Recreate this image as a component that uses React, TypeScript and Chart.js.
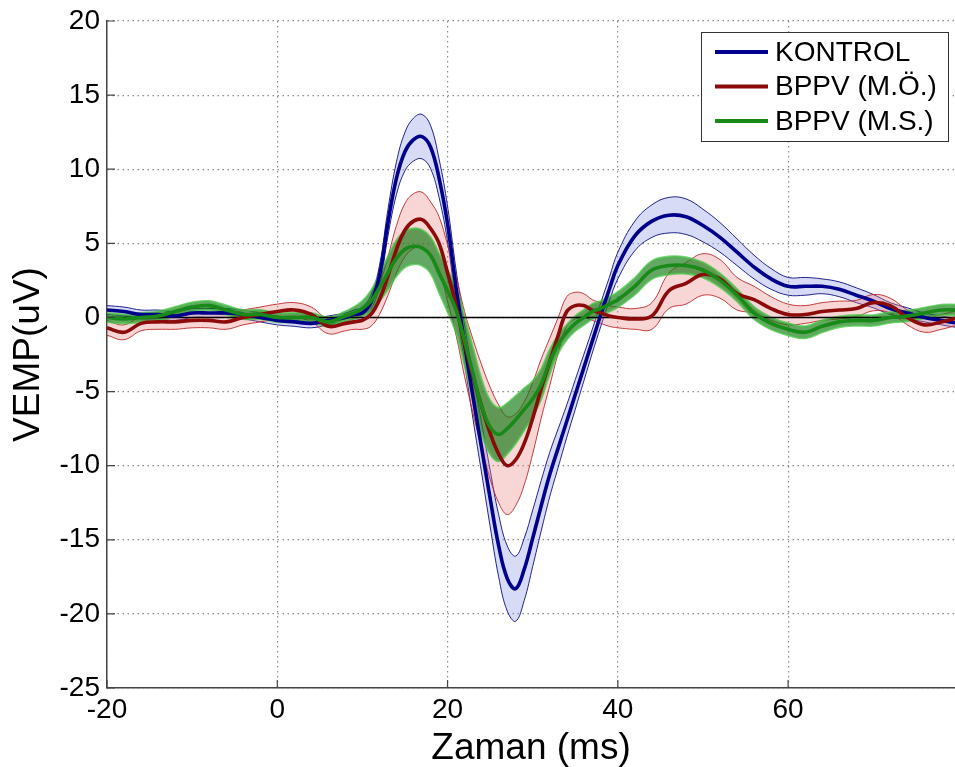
import React, { useEffect, useRef } from 'react';
import { Chart, registerables } from 'chart.js';

Chart.register(...registerables);

// ---- Data -------------------------------------------------------------
const time = [
  -20, -18, -16, -14, -12, -10, -8, -6, -4, -2, 0, 2, 4, 6, 8,
  9, 10, 11, 12, 13, 14, 15, 16, 17, 18, 19, 20, 21, 22, 23, 24, 25, 26, 27, 28, 29, 30, 31, 32, 33, 34, 35, 36, 37, 38, 39, 40,
  42, 44, 46, 48, 50, 52, 54, 56, 58, 60, 62, 64, 66, 68, 70, 72, 74, 76, 78, 80,
];

const kontrolMean = [
  0.5, 0.4, 0.2, 0.2, 0.1, 0.3, 0.3, 0.3, 0.2, 0.0, -0.2, -0.3, -0.4, -0.2, 0.0,
  0.2, 0.3, 1.0, 2.8, 6.4, 9.4, 11.2, 12.0, 12.2, 11.5, 9.4, 6.3, 2.0, -1.8, -5.4, -8.8, -12.2, -15.4, -17.6, -18.3,
  -17.0, -14.9, -12.7, -10.6, -8.8, -7.0, -5.2, -3.4, -1.6, 0.2, 1.9, 3.5,
  5.5, 6.5, 6.9, 6.8, 6.2, 5.4, 4.4, 3.4, 2.6, 2.1, 2.1, 2.1, 1.9, 1.5, 1.1, 0.6, 0.3, 0.0, -0.2, -0.4,
];
const kontrolErr = [
  0.3, 0.3, 0.3, 0.3, 0.3, 0.3, 0.3, 0.3, 0.3, 0.3, 0.3, 0.3, 0.3, 0.3, 0.3,
  0.3, 0.4, 0.5, 0.7, 0.9, 1.1, 1.3, 1.45, 1.5, 1.45, 1.3, 1.2, 1.2, 1.3, 1.5, 1.7, 1.9, 2.1, 2.2, 2.2,
  2.1, 1.9, 1.7, 1.5, 1.3, 1.1, 1.0, 0.9, 0.8, 0.8, 0.8, 0.9,
  1.0, 1.1, 1.2, 1.2, 1.1, 1.0, 0.9, 0.8, 0.7, 0.6, 0.6, 0.5, 0.5, 0.5, 0.45, 0.4, 0.35, 0.3, 0.3, 0.3,
];

const moMean = [
  -0.7, -1.0, -0.4, -0.3, -0.3, -0.2, -0.2, -0.3, 0.0, 0.2, 0.4, 0.5, 0.2, -0.6, -0.4,
  -0.3, -0.2, 0.2, 1.2, 2.8, 4.6, 5.9, 6.5, 6.6, 6.0, 5.0, 3.0, 0.8, -1.8, -4.0, -6.0, -7.8, -9.2, -10.0, -9.6,
  -8.5, -6.8, -4.8, -3.0, -1.2, 0.4, 0.8, 0.8, 0.5, 0.3, 0.1, 0.0,
  -0.1, 0.1, 1.8, 2.3, 2.9, 2.6, 1.6, 1.2, 0.6, 0.2, 0.2, 0.4, 0.5, 0.6, 1.0, 0.8, 0.0, -0.5, -0.3, 0.0,
];
const moErr = [
  0.5, 0.5, 0.5, 0.5, 0.5, 0.5, 0.5, 0.5, 0.5, 0.5, 0.5, 0.5, 0.5, 0.5, 0.5,
  0.5, 0.6, 0.8, 1.0, 1.3, 1.6, 1.8, 1.85, 1.85, 1.8, 1.8, 1.9, 2.0, 2.2, 2.5, 2.8, 3.1, 3.3, 3.3, 3.1,
  2.8, 2.4, 2.0, 1.6, 1.2, 1.0, 0.9, 0.8, 0.7, 0.7, 0.7, 0.7,
  0.7, 0.9, 1.2, 1.4, 1.4, 1.3, 1.1, 0.9, 0.8, 0.7, 0.6, 0.6, 0.6, 0.55, 0.55, 0.5, 0.5, 0.5, 0.5, 0.5,
];

const msMean = [
  0.0, -0.1, 0.0, 0.1, 0.4, 0.7, 0.8, 0.5, 0.2, 0.2, 0.0, 0.0, 0.0, -0.3, 0.1,
  0.3, 0.6, 1.1, 2.0, 3.0, 4.0, 4.6, 4.8, 4.7, 4.2, 3.0, 1.8, 0.5, -1.6, -3.8, -6.0, -7.4, -7.9, -7.5, -6.9,
  -6.2, -5.5, -4.5, -3.0, -1.8, -1.0, -0.4, 0.0, 0.4, 0.6, 0.9, 1.2,
  2.1, 3.2, 3.5, 3.5, 3.2, 2.5, 1.5, 0.3, -0.4, -0.8, -1.0, -0.6, -0.3, -0.2, -0.2, 0.0, 0.1, 0.3, 0.5, 0.5,
];
const msErr = [
  0.3, 0.3, 0.3, 0.3, 0.3, 0.3, 0.3, 0.3, 0.3, 0.3, 0.3, 0.3, 0.3, 0.3, 0.3,
  0.4, 0.5, 0.7, 0.9, 1.1, 1.2, 1.2, 1.2, 1.2, 1.2, 1.3, 1.4, 1.5, 1.6, 1.7, 1.8, 1.8, 1.8, 1.7, 1.6,
  1.4, 1.2, 1.0, 0.8, 0.6, 0.5, 0.5, 0.5, 0.5, 0.5, 0.5, 0.5,
  0.55, 0.6, 0.6, 0.55, 0.5, 0.45, 0.4, 0.4, 0.4, 0.4, 0.4, 0.4, 0.35, 0.35, 0.35, 0.35, 0.35, 0.35, 0.35, 0.35,
];

const seriesNames = ['KONTROL', 'BPPV (M.Ö.)', 'BPPV (M.S.)'];
const xTicks = [-20, 0, 20, 40, 60];
const xMin = -20;
const xMax = 79.6;
const yMin = -25;
const yMax = 20;
const yStep = 5;
const xTitle = 'Zaman (ms)';
const yTitle = 'VEMP(uV)';

// ---- Styling ----------------------------------------------------------
const FONT = "'Liberation Sans', Arial, Helvetica, sans-serif";

const styles = [
  { line: '#00008c', fill: 'rgba(150,160,230,0.38)', edge: 'rgba(0,0,120,0.85)', edgeW: 1 },
  { line: '#8c0a0a', fill: 'rgba(235,130,130,0.33)', edge: 'rgba(190,40,40,0.9)', edgeW: 1 },
  { line: '#178a17', fill: 'rgba(20,120,20,0.66)', edge: 'rgba(70,195,70,0.75)', edgeW: 2.2 },
];

const pts = (vals: number[]) => time.map((t, i) => ({ x: t, y: vals[i] }));

const legendPlugin = {
  id: 'boxLegend',
  afterDraw(chart: any) {
    const { ctx, chartArea } = chart;
    const w = 247;
    const h = 109;
    const x0 = chartArea.right - 254;
    const y0 = chartArea.top + 11;
    ctx.save();
    ctx.fillStyle = '#ffffff';
    ctx.fillRect(x0, y0, w, h);
    ctx.strokeStyle = '#333333';
    ctx.lineWidth = 1;
    ctx.strokeRect(x0 + 0.5, y0 + 0.5, w, h);
    const rows = [20, 54.5, 89];
    seriesNames.forEach((name, i) => {
      const y = y0 + rows[i];
      ctx.strokeStyle = styles[i].line;
      ctx.lineWidth = 4;
      ctx.beginPath();
      ctx.moveTo(x0 + 14, y);
      ctx.lineTo(x0 + 67, y);
      ctx.stroke();
      ctx.fillStyle = '#000';
      ctx.font = `28px ${FONT}`;
      ctx.textBaseline = 'middle';
      ctx.textAlign = 'left';
      ctx.fillText(name, x0 + 74, y + 1);
    });
    ctx.restore();
  },
};

// small inward tick marks (MATLAB style)
const innerTicksPlugin = {
  id: 'innerTicks',
  afterDatasetsDraw(chart: any) {
    const { ctx, chartArea, scales } = chart;
    ctx.save();
    ctx.strokeStyle = '#444';
    ctx.lineWidth = 1.2;
    ctx.beginPath();
    xTicks.forEach((v) => {
      const px = scales.x.getPixelForValue(v);
      ctx.moveTo(px, chartArea.bottom);
      ctx.lineTo(px, chartArea.bottom - 8);
    });
    for (let v = yMin; v <= yMax; v += yStep) {
      const py = scales.y.getPixelForValue(v);
      ctx.moveTo(chartArea.left, py);
      ctx.lineTo(chartArea.left + 8, py);
    }
    ctx.stroke();
    ctx.restore();
  },
};

export default function App() {
  const ref = useRef<HTMLCanvasElement>(null);

  useEffect(() => {
    const canvas = ref.current;
    if (!canvas) return;
    const means = [kontrolMean, moMean, msMean];
    const errs = [kontrolErr, moErr, msErr];
    const datasets: any[] = [];

    // bands (drawn first)
    means.forEach((m, k) => {
      const upper = m.map((v, i) => v + errs[k][i]);
      const lower = m.map((v, i) => v - errs[k][i]);
      const st = styles[k];
      const upIdx = datasets.length;
      datasets.push({
        label: seriesNames[k] + ' upper',
        data: pts(upper),
        borderColor: st.edge,
        borderWidth: st.edgeW,
        backgroundColor: st.fill,
        fill: upIdx + 1,
        order: 101 - k * 10,
      });
      datasets.push({
        label: seriesNames[k] + ' lower',
        data: pts(lower),
        borderColor: st.edge,
        borderWidth: st.edgeW,
        fill: false,
        order: 100 - k * 10,
      });
    });

    // zero line
    datasets.push({
      label: 'zero',
      data: [{ x: xMin, y: 0 }, { x: 80, y: 0 }],
      borderColor: '#000',
      borderWidth: 1.6,
      fill: false,
      order: 50,
      tension: 0,
    });

    // mean lines
    means.forEach((m, k) => {
      datasets.push({
        label: seriesNames[k],
        data: pts(m),
        borderColor: styles[k].line,
        borderWidth: 3.6,
        fill: false,
        order: 30 - k * 10,
      });
    });

    const gridOpts = { color: '#8a8a8a', lineWidth: 1.2, drawTicks: false };
    const borderOpts = { display: true, color: '#444', width: 1.5, dash: [1.5, 3.5] };

    const chart = new Chart(canvas, {
      type: 'line',
      data: { datasets },
      options: {
        animation: false,
        responsive: false,
        maintainAspectRatio: false,
        layout: { padding: { top: 16, left: 0, right: 0, bottom: 0 } },
        elements: {
          point: { radius: 0, hoverRadius: 0 },
          line: { tension: 0.4 },
        },
        plugins: {
          legend: { display: false },
          tooltip: { enabled: false },
        },
        scales: {
          x: {
            type: 'linear',
            min: xMin,
            max: xMax,
            afterBuildTicks: (axis: any) => {
              axis.ticks = xTicks.map((v) => ({ value: v }));
            },
            afterFit: (s: any) => {
              s.height = 79;
            },
            ticks: {
              font: { family: FONT, size: 28, lineHeight: 1 },
              color: '#000',
              padding: 8,
              maxRotation: 0,
              autoSkip: false,
            },
            grid: gridOpts,
            border: borderOpts,
            title: {
              display: true,
              text: xTitle,
              font: { family: FONT, size: 37, lineHeight: 1 },
              color: '#000',
              padding: { top: 0, bottom: 0 },
            },
          },
          y: {
            type: 'linear',
            min: yMin,
            max: yMax,
            afterFit: (s: any) => {
              s.width = 107;
            },
            ticks: {
              stepSize: yStep,
              font: { family: FONT, size: 28, lineHeight: 1 },
              color: '#000',
              padding: 7,
            },
            grid: gridOpts,
            border: borderOpts,
            title: {
              display: true,
              text: yTitle,
              font: { family: FONT, size: 37, lineHeight: 1 },
              color: '#000',
              padding: { top: 10, bottom: 10 },
            },
          },
        },
      } as any,
      plugins: [innerTicksPlugin, legendPlugin],
    });

    return () => chart.destroy();
  }, []);

  return (
    <div style={{ position: 'fixed', left: 0, top: 0, width: 955, height: 767, background: '#fff' }}>
      <canvas ref={ref} width={955} height={767} style={{ display: 'block', width: 955, height: 767 }} />
    </div>
  );
}
